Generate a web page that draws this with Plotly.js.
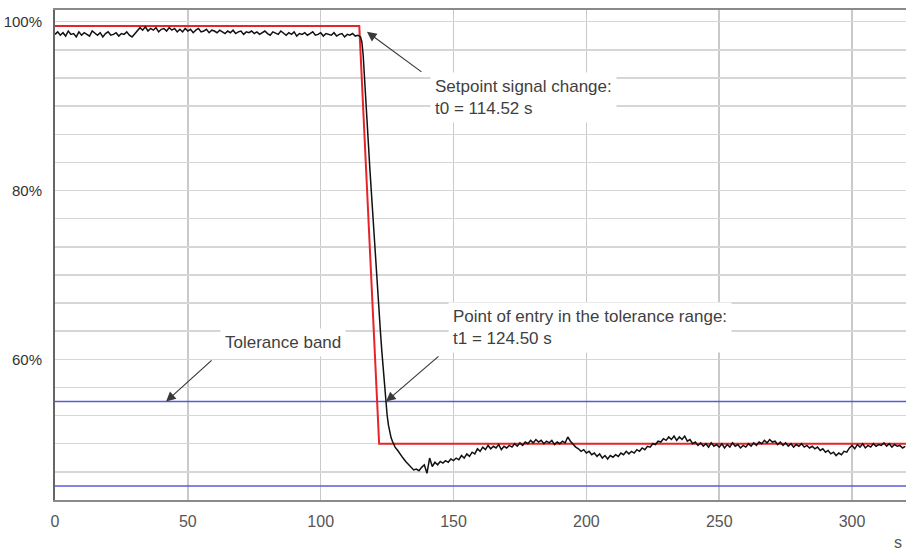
<!DOCTYPE html>
<html>
<head>
<meta charset="utf-8">
<script src="https://cdn.plot.ly/plotly-3.0.1.min.js"></script>
<style>html,body{margin:0;padding:0;background:#fff;}#chart{width:906px;height:552px;}</style>
</head>
<body>
<div id="chart"></div>
<script>
// ---- data ----
const measTime = [
  0,1,2,3,4,5,6,7,8,9,10,11,12,13,14,15,16,17,18,19,
  20,21,22,23,24,25,26,27,28,29,30,31,32,33,34,35,36,37,38,39,
  40,41,42,43,44,45,46,47,48,49,50,51,52,53,54,55,56,57,58,59,
  60,61,62,63,64,65,66,67,68,69,70,71,72,73,74,75,76,77,78,79,
  80,81,82,83,84,85,86,87,88,89,90,91,92,93,94,95,96,97,98,99,
  100,101,102,103,104,105,106,107,108,109,110,111,112,113,114,115,
  115.5,116,116.5,117,117.5,118,118.5,119,119.5,120,120.5,121,121.5,122,122.5,123,123.5,124,124.5,125,125.5,126,126.5,127,127.5,128,
  129,130,131,132,133,134,135,136,137,138,
  139,140,141,142,143,144,145,146,147,148,
  149,150,151,152,153,154,155,156,157,158,
  159,160,161,162,163,164,165,166,167,168,
  169,170,171,172,173,174,175,176,177,178,
  179,180,181,182,183,184,185,186,187,188,
  189,190,191,192,193,194,195,196,197,198,
  199,200,201,202,203,204,205,206,207,208,
  209,210,211,212,213,214,215,216,217,218,
  219,220,221,222,223,224,225,226,227,228,
  229,230,231,232,233,234,235,236,237,238,
  239,240,241,242,243,244,245,246,247,248,
  249,250,251,252,253,254,255,256,257,258,
  259,260,261,262,263,264,265,266,267,268,
  269,270,271,272,273,274,275,276,277,278,
  279,280,281,282,283,284,285,286,287,288,
  289,290,291,292,293,294,295,296,297,298,
  299,300,301,302,303,304,305,306,307,308,
  309,310,311,312,313,314,315,316,317,318,
  319,320
];
const measValue = [
  98.5,98.8,98.4,98.7,98.3,98.9,98.5,98.6,98.2,98.8,98.4,98.7,98.5,98.3,98.9,98.6,98.4,98.7,98.2,98.6,
  98.8,98.4,98.5,98.7,98.3,98.6,98.5,98.8,98.4,98.2,98.6,98.9,
  99.3,99.0,99.4,98.9,99.2,99.0,99.3,98.8,99.1,99.2,98.9,99.3,99.0,99.2,98.8,99.1,
  98.8,99.2,98.9,99.1,98.7,99.0,99.2,98.8,98.9,99.1,98.7,99.0,98.9,
  98.7,99.0,98.8,98.6,98.9,98.7,99.0,98.6,98.8,98.9,98.5,98.8,98.7,98.9,98.6,98.8,98.5,98.7,98.9,98.6,
  98.4,98.8,98.6,98.5,98.9,98.6,98.4,98.7,98.5,98.8,98.3,98.6,98.5,98.7,98.4,98.6,98.8,98.4,98.5,98.7,
  98.3,98.6,98.5,98.4,98.7,98.3,98.5,98.6,98.2,98.5,98.4,98.6,98.3,98.4,
  98.2,
  97.6,96.0,93.6,90.8,88.0,85.3,82.6,80.0,77.5,75.0,72.5,70.0,67.6,65.4,63.2,61.0,59.0,57.0,55.0,53.4,52.2,51.3,50.7,50.3,50.0,49.6,
  49.2,48.7,48.3,47.9,47.6,47.2,46.9,47.0,46.8,47.2,
  47.5,46.5,48.3,47.3,47.8,47.5,47.9,47.7,48.0,47.8,
  48.2,48.0,48.3,48.1,48.6,48.3,48.8,48.5,49.0,48.8,
  49.4,49.1,49.6,49.3,49.8,49.4,49.7,49.5,49.9,49.3,
  49.7,49.5,49.8,49.6,50.0,49.7,50.1,49.8,50.2,50.0,
  50.4,50.1,50.5,50.2,50.4,50.0,50.3,50.1,50.4,49.9,
  50.2,50.0,50.3,50.1,50.8,50.3,49.9,49.6,49.4,49.1,
  49.3,48.9,49.1,48.7,48.9,48.5,48.8,48.3,48.6,48.2,
  48.6,48.4,48.7,48.5,48.9,48.7,49.1,48.8,49.1,48.9,
  49.3,49.1,49.5,49.3,49.7,49.6,50.0,49.9,50.3,50.2,
  50.6,50.4,50.8,50.5,50.9,50.4,50.8,50.5,50.9,50.3,
  50.5,50.0,50.2,49.8,50.1,49.7,50.0,49.6,50.1,49.7,
  49.9,49.6,50.0,49.5,49.9,49.6,50.1,49.7,49.9,49.5,
  49.8,49.6,50.0,49.7,50.1,49.8,50.2,50.0,50.4,50.1,
  50.5,50.2,50.3,49.9,50.2,49.8,50.1,49.7,50.0,49.6,
  49.9,49.7,50.0,49.6,49.8,49.5,49.7,49.4,49.6,49.2,
  49.4,49.0,49.2,48.8,49.0,48.6,48.9,48.7,49.1,49.0,
  49.5,49.8,49.4,49.9,49.6,50.0,49.5,49.8,49.6,50.0,
  49.7,49.9,49.8,50.1,49.7,50.0,49.6,49.9,49.7,49.8,
  49.5,49.7
];
const setpointTime  = [0, 114.52, 122, 330];
const setpointValue = [99.5, 99.5, 50, 50];
const bandTime  = [0, 330];
const bandUpper = [55, 55];
const bandLower = [45, 45];

const xTickVals = [0, 50, 100, 150, 200, 250, 300];
const xTickText = ['0', '50', '100', '150', '200', '250', '300'];
const yTickVals = [43.333,46.667,50,53.333,56.667,60,63.333,66.667,70,73.333,76.667,80,83.333,86.667,90,93.333,96.667,100];
const yTickText = ['','','','','','60%','','','','','','80%','','','','','','100%'];

const t0Label = 'Setpoint signal change:<br>t0 = 114.52 s';
const t1Label = 'Point of entry in the tolerance range:<br>t1 = 124.50 s';
const bandLabel = 'Tolerance band';
const xUnit = 's';

// ---- chart ----
const FONT = '"Liberation Sans", Arial, sans-serif';
const traces = [
  {x: bandTime, y: bandUpper, mode: 'lines', line: {color: '#5a5ad8', width: 1.5}, hoverinfo: 'skip'},
  {x: bandTime, y: bandLower, mode: 'lines', line: {color: '#5a5ad8', width: 1.5}, hoverinfo: 'skip'},
  {x: setpointTime, y: setpointValue, mode: 'lines', line: {color: '#e5252b', width: 2}},
  {x: measTime, y: measValue, mode: 'lines', line: {color: '#111111', width: 1.5}}
];

const arrowStyle = {showarrow: true, arrowhead: 2, arrowsize: 1.6, arrowwidth: 1.2, arrowcolor: '#3a3a3a',
  axref: 'x', ayref: 'y', text: '', standoff: 0, startstandoff: 0};
const textStyle = {showarrow: false, xanchor: 'left', yanchor: 'middle', align: 'left',
  bgcolor: '#ffffff', borderpad: 4, font: {family: FONT, size: 17, color: '#3f3f3f'}};

const layout = {
  width: 906, height: 552,
  margin: {l: 55, r: 0, t: 10, b: 52},
  paper_bgcolor: '#ffffff', plot_bgcolor: '#ffffff',
  showlegend: false,
  font: {family: FONT},
  xaxis: {
    range: [0, 320.3], tickvals: xTickVals, ticktext: xTickText,
    showgrid: true, gridcolor: '#c9c9c9', gridwidth: 1.5, zeroline: false,
    showline: true, linecolor: '#8a8a8a', linewidth: 2, mirror: true,
    ticks: '', ticklabelstandoff: 6,
    tickfont: {family: FONT, size: 16, color: '#555555'}
  },
  yaxis: {
    range: [43.333, 101.39], tickvals: yTickVals, ticktext: yTickText,
    showgrid: true, gridcolor: '#d6d6d6', gridwidth: 1.5, zeroline: false,
    showline: true, linecolor: '#666666', linewidth: 2,
    ticks: '', ticklabelstandoff: 8,
    tickfont: {family: FONT, size: 15, color: '#333333'}
  },
  annotations: [
    Object.assign({}, textStyle, {x: 141.1, y: 90.97, text: t0Label}),
    Object.assign({}, textStyle, {x: 147.9, y: 63.82, text: t1Label}),
    Object.assign({}, textStyle, {x: 62.1, y: 62.05, text: bandLabel}),
    Object.assign({}, arrowStyle, {x: 117.4, y: 98.8, ax: 138.5, ay: 93.93}),
    Object.assign({}, arrowStyle, {x: 124.6, y: 55.0, ax: 144.9, ay: 60.5}),
    Object.assign({}, arrowStyle, {x: 41.8, y: 55.0, ax: 59.5, ay: 60.04}),
    {xref: 'paper', yref: 'paper', x: 1, y: -0.086, xanchor: 'right', yanchor: 'middle', xshift: -2,
     showarrow: false, text: xUnit, font: {family: FONT, size: 16, color: '#555555'}}
  ]
};

Plotly.newPlot('chart', traces, layout, {displayModeBar: false, staticPlot: true});
</script>
</body>
</html>
